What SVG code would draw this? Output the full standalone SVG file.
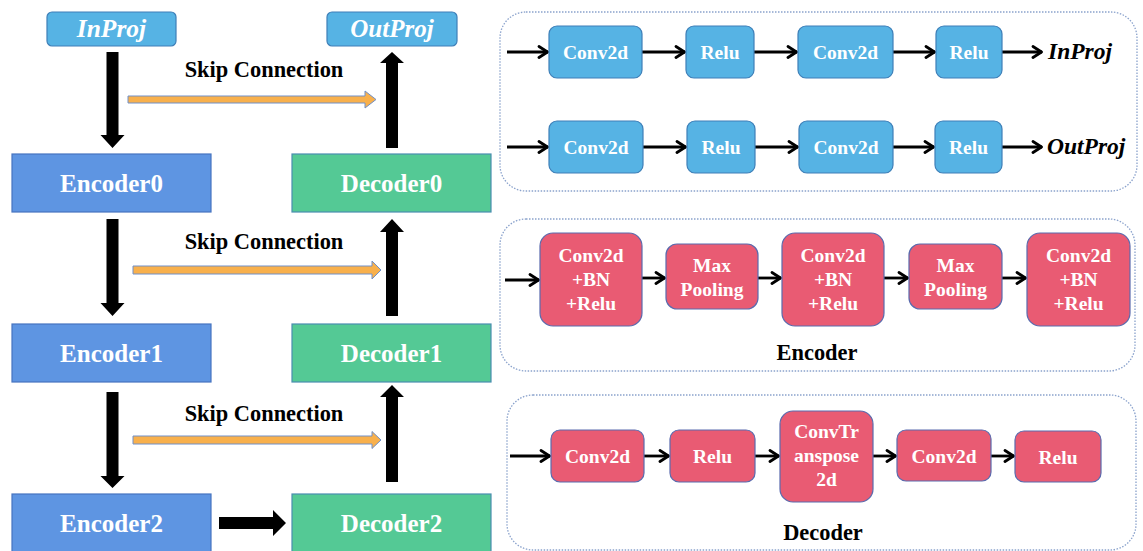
<svg xmlns="http://www.w3.org/2000/svg" width="1143" height="551" viewBox="0 0 1143 551">
  <defs>
    <style>
      .lbl { font-family: "Liberation Serif", "DejaVu Serif", serif; font-weight: bold; text-anchor: middle; }
      .w { fill: #ffffff; }
      .k { fill: #000000; }
      .it { font-style: italic; }
      .st { text-anchor: start; }
      .proj { fill: #56B3E4; stroke: #3E7FB8; stroke-width: 1.2; }
      .enc { fill: #5E95E2; stroke: #4774C0; stroke-width: 1.2; }
      .dec { fill: #54C995; stroke: #4A8EB0; stroke-width: 1.2; }
      .pink { fill: #E95B73; stroke: #5A6BAE; stroke-width: 1.2; }
      .panel { fill: none; stroke: #8AA2CC; stroke-width: 1.3; stroke-dasharray: 1.5 1.5; }
      .blk { fill: #000000; }
      .skip { fill: #F8B04C; stroke: #7090C8; stroke-width: 1; }
      .flow { fill: none; stroke: #000000; stroke-width: 2.8; marker-end: url(#chev); }
    </style>
    <marker id="chev" markerUnits="userSpaceOnUse" viewBox="0 0 12 14" refX="11" refY="7" markerWidth="12" markerHeight="14" orient="auto">
      <polyline points="2,1.5 10.5,7 2,12.5" fill="none" stroke="#000000" stroke-width="2.8" stroke-linecap="round" stroke-linejoin="round"/>
    </marker>
  </defs>

  <!-- U-shaped overview: projections, encoder and decoder stages -->
  <g id="inproj">
    <rect class="proj" x="47" y="12" width="129" height="34" rx="5"/>
    <text class="lbl w it" x="111.5" y="37" font-size="25.5">InProj</text>
  </g>
  <g id="outproj">
    <rect class="proj" x="327" y="12" width="130" height="34" rx="5"/>
    <text class="lbl w it" x="392" y="37" font-size="25">OutProj</text>
  </g>
  <g id="encoder0">
    <rect class="enc" x="12" y="154" width="199" height="58"/>
    <text class="lbl w" x="111.5" y="192" font-size="25">Encoder0</text>
  </g>
  <g id="encoder1">
    <rect class="enc" x="12" y="324" width="199" height="58"/>
    <text class="lbl w" x="111.5" y="362" font-size="25">Encoder1</text>
  </g>
  <g id="encoder2">
    <rect class="enc" x="12" y="494" width="199" height="58"/>
    <text class="lbl w" x="111.5" y="532" font-size="25">Encoder2</text>
  </g>
  <g id="decoder0">
    <rect class="dec" x="292" y="154" width="199" height="58"/>
    <text class="lbl w" x="391.5" y="192" font-size="25">Decoder0</text>
  </g>
  <g id="decoder1">
    <rect class="dec" x="292" y="324" width="199" height="58"/>
    <text class="lbl w" x="391.5" y="362" font-size="25">Decoder1</text>
  </g>
  <g id="decoder2">
    <rect class="dec" x="292" y="494" width="199" height="58"/>
    <text class="lbl w" x="391.5" y="532" font-size="25">Decoder2</text>
  </g>

  <g id="connectors">
    <!-- block arrows down the encoder side -->
    <polygon class="blk" points="106.5,52 118.5,52 118.5,135 124.5,135 112.5,148 100.5,135 106.5,135"/>
    <polygon class="blk" points="106.5,219 118.5,219 118.5,303 124.5,303 112.5,316 100.5,303 106.5,303"/>
    <polygon class="blk" points="106.5,392 118.5,392 118.5,476 124.5,476 112.5,488 100.5,476 106.5,476"/>
    <!-- block arrows up the decoder side -->
    <polygon class="blk" points="386,148 398,148 398,63 404,63 392,52 380,63 386,63"/>
    <polygon class="blk" points="386,316 398,316 398,232 404,232 392,219 380,232 386,232"/>
    <polygon class="blk" points="386,482 398,482 398,397 404,397 392,385 380,397 386,397"/>
    <!-- bottleneck: Encoder2 to Decoder2 -->
    <polygon class="blk" points="219,517 273,517 273,510 286,523 273,536 273,529 219,529"/>
    <!-- skip connections -->
    <polygon class="skip" points="128,96 365,96 365,91 376,99.5 365,108 365,103 128,103"/>
    <polygon class="skip" points="133,266 372,266 372,261 381,270 372,279 372,274 133,274"/>
    <polygon class="skip" points="133,436 372,436 372,431.5 381,440 372,448.5 372,444 133,444"/>
    <text class="lbl k" x="264" y="77" font-size="22.4">Skip Connection</text>
    <text class="lbl k" x="264" y="249" font-size="22.4">Skip Connection</text>
    <text class="lbl k" x="264" y="421" font-size="22.4">Skip Connection</text>

    <!-- projection panel flows -->
    <line class="flow" x1="507" y1="52" x2="548" y2="52"/>
    <line class="flow" x1="642" y1="52" x2="685" y2="52"/>
    <line class="flow" x1="754" y1="52" x2="797" y2="52"/>
    <line class="flow" x1="893" y1="52" x2="935" y2="52"/>
    <line class="flow" x1="1002" y1="52" x2="1042" y2="52"/>
    <line class="flow" x1="507" y1="147" x2="548" y2="147"/>
    <line class="flow" x1="643" y1="147" x2="686" y2="147"/>
    <line class="flow" x1="755" y1="147" x2="798" y2="147"/>
    <line class="flow" x1="893" y1="147" x2="934" y2="147"/>
    <line class="flow" x1="1002" y1="147" x2="1042" y2="147"/>
    <!-- encoder panel flows -->
    <line class="flow" x1="505" y1="280" x2="539" y2="280"/>
    <line class="flow" x1="642" y1="278" x2="665" y2="278"/>
    <line class="flow" x1="758" y1="278" x2="781" y2="278"/>
    <line class="flow" x1="884" y1="278" x2="908" y2="278"/>
    <line class="flow" x1="1002" y1="278" x2="1026" y2="278"/>
    <!-- decoder panel flows -->
    <line class="flow" x1="510" y1="456" x2="550" y2="456"/>
    <line class="flow" x1="644" y1="456" x2="669" y2="456"/>
    <line class="flow" x1="755" y1="456" x2="779" y2="456"/>
    <line class="flow" x1="873" y1="456" x2="896" y2="456"/>
    <line class="flow" x1="991" y1="456" x2="1014" y2="456"/>
  </g>

  <!-- projection detail panel -->
  <g id="proj-panel">
    <rect class="panel" x="500" y="12" width="637" height="179" rx="26"/>
    <g id="p-conv-a"><rect class="proj" x="549" y="26" width="93" height="52" rx="8"/><text class="lbl w" x="595.5" y="59" font-size="19.5">Conv2d</text></g>
    <g id="p-relu-a"><rect class="proj" x="686" y="26" width="68" height="52" rx="8"/><text class="lbl w" x="720" y="59" font-size="19.5">Relu</text></g>
    <g id="p-conv-b"><rect class="proj" x="798" y="26" width="95" height="52" rx="8"/><text class="lbl w" x="845.5" y="59" font-size="19.5">Conv2d</text></g>
    <g id="p-relu-b"><rect class="proj" x="936" y="26" width="66" height="52" rx="8"/><text class="lbl w" x="969" y="59" font-size="19.5">Relu</text></g>
    <text class="lbl k it st" x="1048" y="59" font-size="23.5">InProj</text>
    <g id="p-conv-c"><rect class="proj" x="549" y="121" width="94" height="52" rx="8"/><text class="lbl w" x="596" y="154" font-size="19.5">Conv2d</text></g>
    <g id="p-relu-c"><rect class="proj" x="687" y="121" width="68" height="52" rx="8"/><text class="lbl w" x="721" y="154" font-size="19.5">Relu</text></g>
    <g id="p-conv-d"><rect class="proj" x="799" y="121" width="94" height="52" rx="8"/><text class="lbl w" x="846" y="154" font-size="19.5">Conv2d</text></g>
    <g id="p-relu-d"><rect class="proj" x="935" y="121" width="67" height="52" rx="8"/><text class="lbl w" x="968.5" y="154" font-size="19.5">Relu</text></g>
    <text class="lbl k it st" x="1047" y="154" font-size="23.5">OutProj</text>
  </g>

  <!-- encoder detail panel -->
  <g id="enc-panel">
    <rect class="panel" x="500" y="219" width="635" height="152" rx="26"/>
    <g id="e-block-a">
      <rect class="pink" x="540" y="233" width="102" height="93" rx="13"/>
      <text class="lbl w" x="591" y="262" font-size="19.5">Conv2d</text>
      <text class="lbl w" x="591" y="286" font-size="19.5">+BN</text>
      <text class="lbl w" x="591" y="310" font-size="19.5">+Relu</text>
    </g>
    <g id="e-pool-a">
      <rect class="pink" x="666" y="244" width="92" height="65" rx="11"/>
      <text class="lbl w" x="712" y="272" font-size="19.5">Max</text>
      <text class="lbl w" x="712" y="296" font-size="19.5">Pooling</text>
    </g>
    <g id="e-block-b">
      <rect class="pink" x="782" y="233" width="102" height="93" rx="13"/>
      <text class="lbl w" x="833" y="262" font-size="19.5">Conv2d</text>
      <text class="lbl w" x="833" y="286" font-size="19.5">+BN</text>
      <text class="lbl w" x="833" y="310" font-size="19.5">+Relu</text>
    </g>
    <g id="e-pool-b">
      <rect class="pink" x="909" y="244" width="93" height="65" rx="11"/>
      <text class="lbl w" x="955.5" y="272" font-size="19.5">Max</text>
      <text class="lbl w" x="955.5" y="296" font-size="19.5">Pooling</text>
    </g>
    <g id="e-block-c">
      <rect class="pink" x="1027" y="233" width="103" height="93" rx="13"/>
      <text class="lbl w" x="1078.5" y="262" font-size="19.5">Conv2d</text>
      <text class="lbl w" x="1078.5" y="286" font-size="19.5">+BN</text>
      <text class="lbl w" x="1078.5" y="310" font-size="19.5">+Relu</text>
    </g>
    <text class="lbl k" x="817" y="360" font-size="22.4">Encoder</text>
  </g>

  <!-- decoder detail panel -->
  <g id="dec-panel">
    <rect class="panel" x="507" y="395" width="629" height="155" rx="26"/>
    <g id="d-conv-a"><rect class="pink" x="551" y="430" width="93" height="52" rx="9"/><text class="lbl w" x="597.5" y="463" font-size="19.5">Conv2d</text></g>
    <g id="d-relu-a"><rect class="pink" x="670" y="430" width="85" height="52" rx="9"/><text class="lbl w" x="712.5" y="463" font-size="19.5">Relu</text></g>
    <g id="d-convtr">
      <rect class="pink" x="780" y="411" width="93" height="91" rx="13"/>
      <text class="lbl w" x="826.5" y="438" font-size="19.5">ConvTr</text>
      <text class="lbl w" x="826.5" y="462" font-size="19.5">anspose</text>
      <text class="lbl w" x="826.5" y="486" font-size="19.5">2d</text>
    </g>
    <g id="d-conv-b"><rect class="pink" x="897" y="430" width="94" height="51" rx="9"/><text class="lbl w" x="944" y="463" font-size="19.5">Conv2d</text></g>
    <g id="d-relu-b"><rect class="pink" x="1015" y="431" width="86" height="51" rx="9"/><text class="lbl w" x="1058" y="464" font-size="19.5">Relu</text></g>
    <text class="lbl k" x="823" y="540" font-size="22.4">Decoder</text>
  </g>
</svg>
